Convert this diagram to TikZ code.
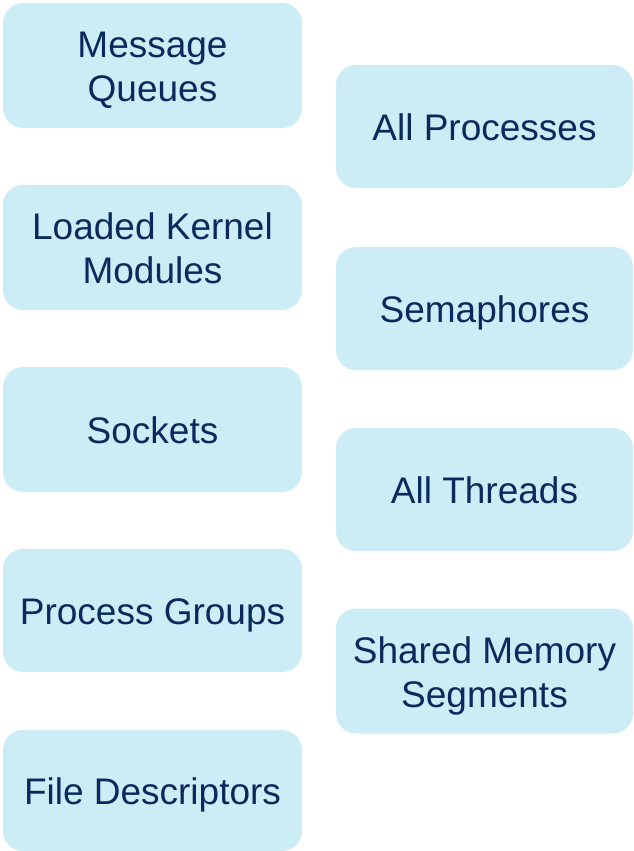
\documentclass[tikz,border=0pt]{standalone}
\usepackage{fontspec}
\setmainfont{Liberation Sans}
\definecolor{boxfill}{RGB}{204,237,245}
\definecolor{boxtext}{RGB}{10,42,94}
\begin{document}
\begin{tikzpicture}[x=1pt,y=-1pt,
  card/.style={fill=boxfill, draw=none, rounded corners=20pt, inner sep=0pt,
    text=boxtext, align=center, font=\fontsize{37}{44}\selectfont},
  oneline/.style={text height=32pt, text depth=4pt},
  twoline/.style={text height=76pt, text depth=4pt},
  leftcard/.style={card, minimum width=299pt, minimum height=125pt},
  rightcard/.style={card, minimum width=297pt, minimum height=123pt}]
\useasboundingbox (0,0) rectangle (634,851);
\node[leftcard, twoline] (mq) at (152.5,65.5) {Message\\Queues};
\node[leftcard, twoline] (lkm) at (152.5,247.5) {Loaded Kernel\\Modules};
\node[leftcard, oneline] (sock) at (152.5,429.5) {Sockets};
\node[leftcard, oneline, minimum height=123pt] (pg) at (152.5,610.5) {Process Groups};
\node[leftcard, oneline, minimum height=121pt] (fd) at (152.5,790.5) {File Descriptors};
\node[rightcard, oneline] (ap) at (484.5,126.5) {All Processes};
\node[rightcard, oneline] (sem) at (484.5,308.5) {Semaphores};
\node[rightcard, oneline] (at) at (484.5,489.5) {All Threads};
\node[rightcard, twoline, minimum height=125pt] (shm) at (484.5,671) {Shared Memory\\Segments};
\end{tikzpicture}
\end{document}
